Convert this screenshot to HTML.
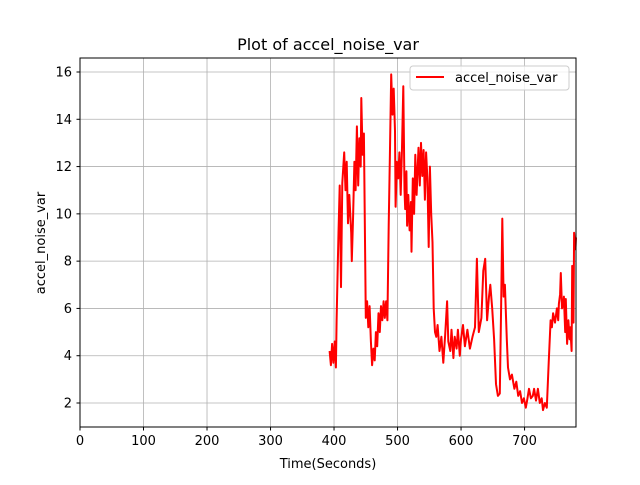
<!DOCTYPE html>
<html><head><meta charset="utf-8"><style>
body{margin:0;background:#fff;font-family:"Liberation Sans","DejaVu Sans",sans-serif}
svg text{font-family:"DejaVu Sans","Liberation Sans",sans-serif}
</style></head><body>
<svg id="c" width="640" height="480">
<rect width="640" height="480" fill="#fff"/>
<g id="grid"></g>
<path id="line" fill="none" stroke="#ff0000" stroke-width="2" stroke-linejoin="round"/>
<rect x="80" y="58" width="496" height="369" fill="none" stroke="#000" stroke-width="1"/>
<g id="ticks"></g>
<text x="328" y="50" text-anchor="middle" font-size="16">Plot of accel_noise_var</text>
<text x="328" y="468" text-anchor="middle" font-size="13">Time(Seconds)</text>
<text transform="translate(45,243) rotate(-90)" text-anchor="middle" font-size="13">accel_noise_var</text>
<g>
<rect x="410" y="66" width="159" height="24" rx="3" fill="#fff" fill-opacity="0.8" stroke="#ccc"/>
<line x1="416" y1="77" x2="444" y2="77" stroke="#ff0000" stroke-width="2"/>
<text x="455" y="82" font-size="13">accel_noise_var</text>
</g>
</svg>
<script>
const xTicks=[0,100,200,300,400,500,600,700];
const yTicks=[2,4,6,8,10,12,14,16];
const times=[393,395,397,399,401,403,404,406,407,409,411,413,416,418,420,422,424,427,428,430,432,434,436,438,440,442,443,445,447,450,452,454,456,458,460,462,464,466,468,470,472,474,476,478,480,482,484,486,488,490,492,494,496,497,499,501,503,505,507,509,511,512,514,515,517,519,521,522,524,526,528,530,533,535,537,539,541,543,545,547,549,551,553,555,557,559,561,563,566,569,572,575,578,580,583,585,588,590,593,595,598,600,603,606,610,614,618,622,625,628,632,635,638,641,644,646,649,652,655,658,661,663,665,667,669,672,674,677,680,684,687,690,693,696,699,702,704,707,710,713,715,718,721,724,727,729,732,735,738,741,743,745,748,751,753,754,756,757,759,761,762,764,765,767,769,771,772,774,775,777,778,780,781];
const values=[4.2,3.6,4.5,3.7,4.6,3.5,5.5,7.9,9.2,11.2,6.9,11.3,12.6,11,12.2,9.6,10.8,9.2,8.0,9.9,12.2,11,13.7,11.2,13.2,12,14.9,12.5,13.4,5.6,6.3,5.2,6.1,4.6,3.6,4.3,3.8,5,4.4,5.8,5,6.1,5.5,6.3,5.6,6.3,5.5,9.5,12.5,15.9,14.2,15.3,13.5,10.3,12.2,11.5,12.6,10.8,12.8,15.4,11,10.2,11.8,9.5,10.8,9.3,10.5,8.4,11.5,10,12.5,10.8,12.8,11.2,13,11.6,12.7,10.6,12.6,11.5,8.6,12,10,8.8,6,5,4.8,5.3,4.2,4.8,3.7,4.9,6.3,4.6,4.2,5.1,3.9,4.8,4.3,5.1,4,4.7,5.3,4.4,5.1,4.3,4.8,5.2,8.1,5,5.6,7.6,8.1,5.5,6.5,7,6,4.7,2.8,2.3,2.4,6,9.8,6.5,7,4.7,3.5,3,3.2,2.6,2.9,2.3,2.5,2,2.2,1.8,2.1,2.6,2.2,2.3,2.6,2.1,2.6,2.0,2.2,1.7,2.0,1.8,3.7,5.5,5.2,5.8,5.4,6,5.5,6.2,6.6,7.5,6,6.2,6.5,5,6.4,4.5,5.5,4.7,5.2,4.2,7.8,5.4,9.2,8.5,9];
const X=t=>80+(t-0)*(496/781);
const Y=v=>403-(v-2)*(331/14);
const ns="http://www.w3.org/2000/svg";
const grid=document.getElementById('grid'),ticks=document.getElementById('ticks');
xTicks.forEach(t=>{
  const g=document.createElementNS(ns,'line');
  g.setAttribute('x1',X(t));g.setAttribute('x2',X(t));g.setAttribute('y1',58);g.setAttribute('y2',427);
  g.setAttribute('stroke','#b0b0b0');g.setAttribute('stroke-width','0.8');
  
  
  grid.appendChild(g);
  const k=document.createElementNS(ns,'line');
  k.setAttribute('x1',X(t));k.setAttribute('x2',X(t));k.setAttribute('y1',427);k.setAttribute('y2',430.5);k.setAttribute('stroke','#000');
  
  
  ticks.appendChild(k);
  const l=document.createElementNS(ns,'text');
  l.setAttribute('x',X(t));l.setAttribute('y',445);l.setAttribute('text-anchor','middle');l.setAttribute('font-size','13');
  l.textContent=t;
  
  
  ticks.appendChild(l);
});
yTicks.forEach(v=>{
  const g=document.createElementNS(ns,'line');
  g.setAttribute('x1',80);g.setAttribute('x2',576);g.setAttribute('y1',Y(v));g.setAttribute('y2',Y(v));
  g.setAttribute('stroke','#b0b0b0');g.setAttribute('stroke-width','0.8');
  
  
  grid.appendChild(g);
  const k=document.createElementNS(ns,'line');
  k.setAttribute('x1',76.5);k.setAttribute('x2',80);k.setAttribute('y1',Y(v));k.setAttribute('y2',Y(v));k.setAttribute('stroke','#000');
  
  
  ticks.appendChild(k);
  const l=document.createElementNS(ns,'text');
  l.setAttribute('x',72);l.setAttribute('y',Y(v)+4.5);l.setAttribute('text-anchor','end');l.setAttribute('font-size','13');
  l.textContent=v;
  
  
  ticks.appendChild(l);
});
let d='';
times.forEach((t,i)=>{d+=(i?'L':'M')+X(t).toFixed(1)+','+Y(values[i]).toFixed(1);});
document.getElementById('line').setAttribute('d',d);
</script>
</body></html>
